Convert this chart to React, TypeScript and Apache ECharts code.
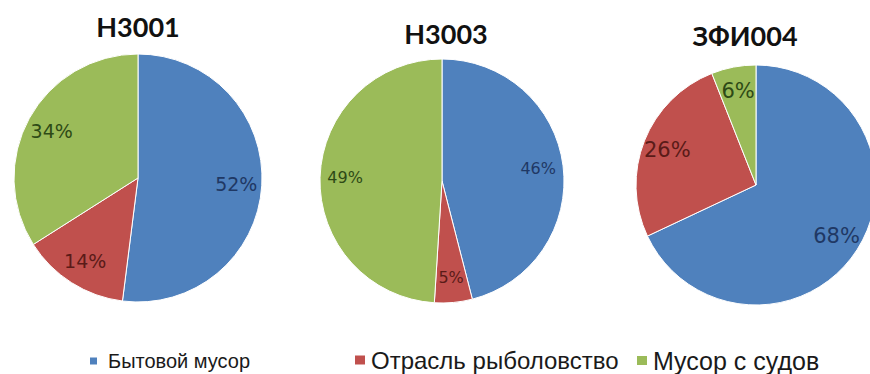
import React, { useEffect, useRef } from "react";
import * as echarts from "echarts";

// Source categories shown in every pie and in the legend
const categories = ["Бытовой мусор", "Отрасль рыболовство", "Мусор с судов"];

// Station names (pie titles)
const stations = ["Н3001", "Н3003", "ЗФИ004"];

// Share of each category per station, %
const h3001Values = [52, 14, 34];
const h3003Values = [46, 5, 49];
const zfi004Values = [68, 26, 6];

const sliceColors = ["#4F81BD", "#C0504D", "#9BBB59"];
const labelColors = ["#1F3864", "#5A1B18", "#2E4A16"];

// Per-pie placement in pixels
const pieLayouts = [
  { values: h3001Values, center: [138, 178], r: 124, labelSize: 19, titleX: 138, titleY: 26 },
  { values: h3003Values, center: [442, 181], r: 122, labelSize: 16, titleX: 446, titleY: 33 },
  { values: zfi004Values, center: [756, 185], r: 120, labelSize: 21, titleX: 745, titleY: 35 },
];

const legendLayouts = [
  { left: 88, top: 350, size: 20, iconW: 9, iconH: 9, pad: 5 },
  { left: 353, top: 347, size: 24, iconW: 12, iconH: 11, pad: 0 },
  { left: 635, top: 347, size: 25, iconW: 12, iconH: 11, pad: 0 },
];

export default function App() {
  const ref = useRef<HTMLDivElement>(null);

  useEffect(() => {
    if (!ref.current) return;
    const chart = echarts.init(ref.current, null, { renderer: "svg" });

    const mainSeries = pieLayouts.map((p, k) => ({
      type: "pie",
      name: stations[k],
      center: p.center,
      radius: p.r,
      startAngle: 90,
      clockwise: true,
      silent: true,
      label: { show: false },
      labelLine: { show: false },
      itemStyle: { borderColor: "#ffffff", borderWidth: 1 },
      data: p.values.map((v, i) => ({
        name: categories[i],
        value: v,
        itemStyle: { color: sliceColors[i] },
      })),
    }));

    // Transparent ring on top of each pie carries the percentage labels
    const labelSeries = pieLayouts.map((p, k) => ({
      type: "pie",
      name: stations[k] + " labels",
      center: p.center,
      radius: [p.r * 0.54, p.r],
      startAngle: 90,
      clockwise: true,
      silent: true,
      itemStyle: { color: "rgba(0,0,0,0)" },
      labelLine: { show: false },
      label: {
        show: true,
        position: "inside",
        formatter: "{c}%",
        fontFamily: "DejaVu Sans",
        fontSize: p.labelSize,
      },
      data: p.values.map((v, i) => ({
        name: categories[i],
        value: v,
        label: { color: labelColors[i] },
      })),
    }));

    chart.setOption({
      animation: false,
      backgroundColor: "#ffffff",
      title: pieLayouts.map((p, k) => ({
        text: stations[k],
        left: p.titleX,
        top: p.titleY,
        textAlign: "center",
        textVerticalAlign: "middle",
        padding: 0,
        textStyle: {
          fontFamily: "Lato",
          fontWeight: "bold",
          fontSize: 27,
          color: "#111111",
        },
      })),
      legend: legendLayouts.map((l, i) => ({
        data: [{ name: categories[i], itemStyle: { color: sliceColors[i] } }],
        left: l.left,
        top: l.top,
        padding: 0,
        icon: "rect",
        itemWidth: l.iconW,
        itemHeight: l.iconH,
        selectedMode: false,
        textStyle: {
          fontFamily: "Liberation Sans",
          fontSize: l.size,
          lineHeight: l.size + 2,
          color: "#1a1a1a",
          padding: [0, 0, 0, l.pad],
        },
      })),
      series: [...mainSeries, ...labelSeries],
    });

    return () => chart.dispose();
  }, []);

  return (
    <div
      ref={ref}
      style={{ position: "fixed", left: 0, top: 0, width: 870, height: 374 }}
    />
  );
}
